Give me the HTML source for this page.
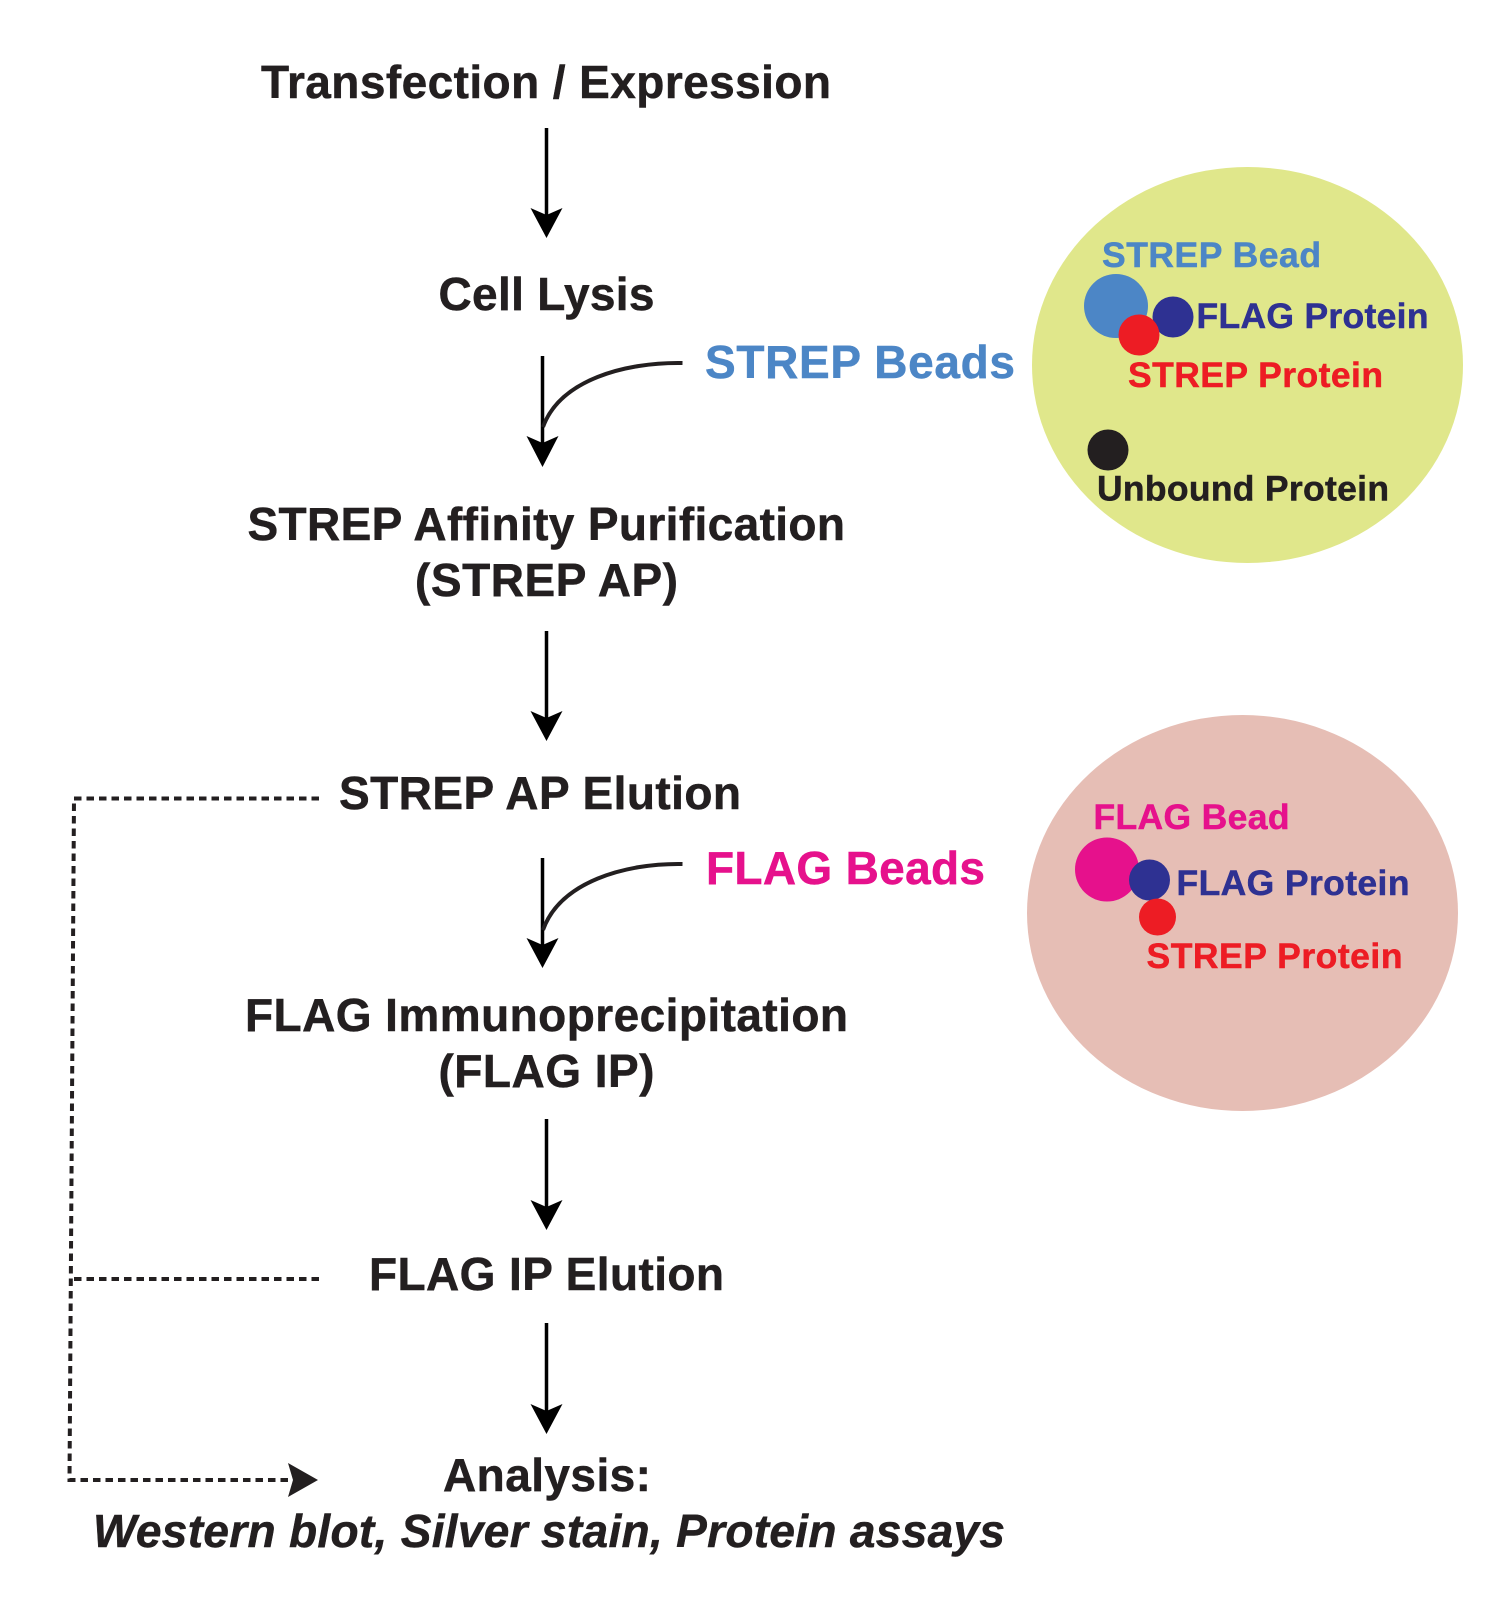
<!DOCTYPE html>
<html><head><meta charset="utf-8"><style>
html,body{margin:0;padding:0;background:#fff}
svg{display:block}
text{font-family:"Liberation Sans",Arial,sans-serif;font-weight:bold;fill:#231f20;stroke:#231f20;stroke-width:.5px}
.m{font-size:46px}
.s{font-size:35.5px}
</style></head><body>
<svg width="1500" height="1613" viewBox="0 0 1500 1613" xmlns="http://www.w3.org/2000/svg">
<ellipse cx="1247.5" cy="365" rx="215.5" ry="198" fill="#e0e78b"/>
<ellipse cx="1242.5" cy="913" rx="215.5" ry="198" fill="#e6beb5"/>
<circle cx="1116" cy="306" r="32" fill="#4c86c6"/>
<circle cx="1173" cy="317" r="20.5" fill="#2e3192"/>
<circle cx="1139" cy="335" r="20.5" fill="#ed1c24"/>
<circle cx="1108" cy="450" r="20.5" fill="#231f20"/>
<circle cx="1107" cy="869.5" r="32" fill="#e6118c"/>
<circle cx="1149.5" cy="880" r="20.5" fill="#2e3192"/>
<circle cx="1157.5" cy="917" r="18.5" fill="#ed1c24"/>

<g stroke="#000" stroke-width="3.5" fill="none">
<path d="M546.5 128V225"/><path d="M542.5 356V455"/><path d="M546.5 631V728"/><path d="M542.5 858V955"/><path d="M546.5 1119V1216"/><path d="M546.5 1323V1420"/>
</g>
<g stroke="#231f20" stroke-width="4" fill="none">
<path d="M682.5 363C625 362 560 380 543 427"/>
<path d="M682.5 864C625 863 560 882 543 930"/>
</g>
<g fill="#000">
<path d="M546.5 238L530.5 208L546.5 215L562.5 208Z"/>
<path d="M542.5 467L526.5 436L542.5 443L558.5 436Z"/>
<path d="M546.5 741L530.5 711L546.5 718L562.5 711Z"/>
<path d="M542.5 968L526.5 938L542.5 945L558.5 938Z"/>
<path d="M546.5 1230L530.5 1200L546.5 1207L562.5 1200Z"/>
<path d="M546.5 1434L530.5 1404L546.5 1411L562.5 1404Z"/>
</g>

<g stroke="#231f20" stroke-width="4" fill="none" stroke-dasharray="7.5 5">
<path d="M319 798.5H74L69.5 1480H295"/>
<path d="M319 1279H71"/>
</g>
<path d="M318 1480L288 1463L293 1480L288 1497Z" fill="#231f20"/>

<text class="m" x="261" y="98" textLength="570" lengthAdjust="spacing">Transfection / Expression</text>
<text class="m" x="438.5" y="310" textLength="216" lengthAdjust="spacing">Cell Lysis</text>
<text class="m" x="247.5" y="540" textLength="597.5" lengthAdjust="spacing">STREP Affinity Purification</text>
<text class="m" x="415" y="596" textLength="263" lengthAdjust="spacing">(STREP AP)</text>
<text class="m" x="339" y="809" textLength="402" lengthAdjust="spacing">STREP AP Elution</text>
<text class="m" x="245" y="1031" textLength="603" lengthAdjust="spacing">FLAG Immunoprecipitation</text>
<text class="m" x="438.5" y="1087" textLength="216" lengthAdjust="spacing">(FLAG IP)</text>
<text class="m" x="369" y="1290" textLength="355" lengthAdjust="spacing">FLAG IP Elution</text>
<text class="m" x="443" y="1491" textLength="208" lengthAdjust="spacing">Analysis:</text>
<text class="m" x="93" y="1547" textLength="912" lengthAdjust="spacing" font-style="italic">Western blot, Silver stain, Protein assays</text>
<text class="m" x="705" y="378" textLength="310" lengthAdjust="spacing" style="fill:#4c86c6;stroke:#4c86c6">STREP Beads</text>
<text class="m" x="706" y="884" textLength="279" lengthAdjust="spacing" style="fill:#e6118c;stroke:#e6118c">FLAG Beads</text>

<text class="s" x="1102" y="267" textLength="219" lengthAdjust="spacing" style="fill:#4c86c6;stroke:#4c86c6">STREP Bead</text>
<text class="s" x="1196.5" y="328" textLength="232" lengthAdjust="spacing" style="fill:#2e3192;stroke:#2e3192">FLAG Protein</text>
<text class="s" x="1128" y="387" textLength="255" lengthAdjust="spacing" style="fill:#ed1c24;stroke:#ed1c24">STREP Protein</text>
<text class="s" x="1097" y="500.5" textLength="292" lengthAdjust="spacing">Unbound Protein</text>
<text class="s" x="1093.5" y="829" textLength="196" lengthAdjust="spacing" style="fill:#e6118c;stroke:#e6118c">FLAG Bead</text>
<text class="s" x="1176.5" y="895" textLength="233" lengthAdjust="spacing" style="fill:#2e3192;stroke:#2e3192">FLAG Protein</text>
<text class="s" x="1146.5" y="968" textLength="256" lengthAdjust="spacing" style="fill:#ed1c24;stroke:#ed1c24">STREP Protein</text>
</svg>
</body></html>
